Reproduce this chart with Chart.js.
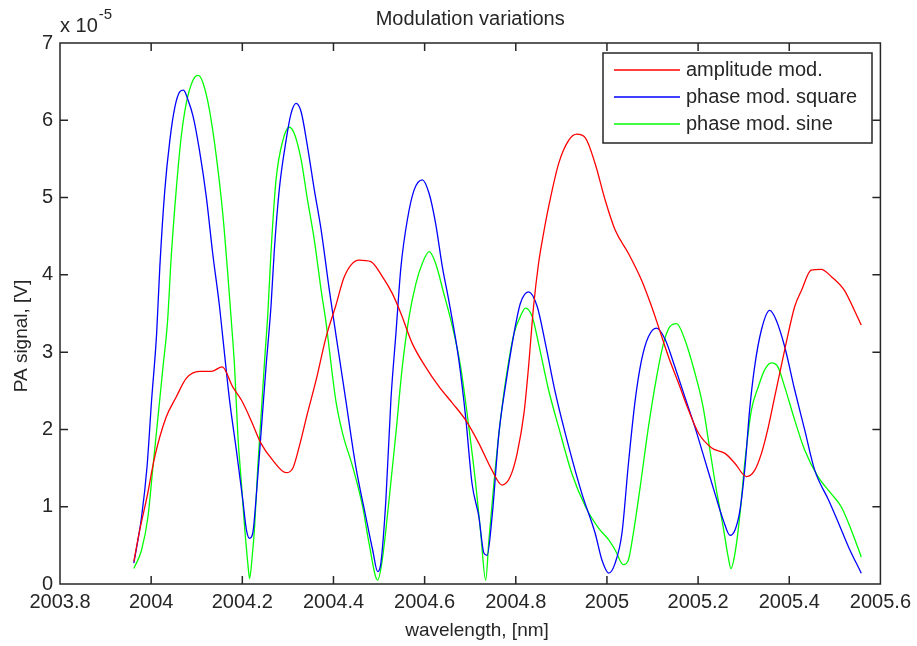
<!DOCTYPE html>
<html>
<head>
<meta charset="utf-8">
<title>Modulation variations</title>
<script src="https://cdn.jsdelivr.net/npm/chart.js@4.4.1/dist/chart.umd.min.js"></script>
<style>
  html, body { margin: 0; padding: 0; background: #fff; }
  canvas { display: block; }
</style>
</head>
<body>
<canvas id="chartMod" width="917" height="646"></canvas>
<script>
// wavelength in nm, PA signal in units of 1e-5 V
const ampWl = [2003.962, 2003.975, 2003.991, 2004.008, 2004.033, 2004.055, 2004.077, 2004.106, 2004.132, 2004.156,
    2004.179, 2004.198, 2004.219, 2004.241, 2004.267, 2004.296, 2004.311, 2004.325, 2004.343, 2004.362,
    2004.384, 2004.405, 2004.424, 2004.456, 2004.482, 2004.507, 2004.529, 2004.548, 2004.573, 2004.602,
    2004.632, 2004.661, 2004.690, 2004.719, 2004.748, 2004.770, 2004.788, 2004.803, 2004.818, 2004.828,
    2004.839, 2004.850, 2004.861, 2004.872, 2004.894, 2004.916, 2004.934, 2004.953, 2004.974, 2004.996,
    2005.018, 2005.047, 2005.076, 2005.098, 2005.113, 2005.135, 2005.157, 2005.179, 2005.201, 2005.230,
    2005.259, 2005.281, 2005.306, 2005.324, 2005.339, 2005.354, 2005.368, 2005.390, 2005.412, 2005.427,
    2005.448, 2005.470, 2005.492, 2005.521, 2005.543, 2005.558];
const ampVal = [0.29, 0.70, 1.13, 1.65, 2.16, 2.42, 2.66, 2.75, 2.75, 2.81,
    2.55, 2.38, 2.12, 1.82, 1.60, 1.44, 1.50, 1.78, 2.21, 2.64,
    3.20, 3.60, 3.98, 4.19, 4.17, 3.98, 3.76, 3.50, 3.11, 2.81,
    2.55, 2.34, 2.12, 1.82, 1.47, 1.28, 1.39, 1.69, 2.21, 2.81,
    3.59, 4.15, 4.54, 4.88, 5.44, 5.74, 5.82, 5.77, 5.44, 4.97,
    4.58, 4.28, 3.93, 3.59, 3.33, 2.94, 2.60, 2.25, 1.95, 1.76,
    1.69, 1.56, 1.39, 1.47, 1.69, 2.03, 2.42, 3.03, 3.59, 3.80,
    4.06, 4.07, 3.98, 3.80, 3.54, 3.35];

const sqWl = [2003.962, 2003.979, 2003.991, 2004.001, 2004.012, 2004.019, 2004.030, 2004.041, 2004.052, 2004.063,
    2004.071, 2004.081, 2004.092, 2004.106, 2004.121, 2004.135, 2004.150, 2004.157, 2004.172, 2004.187,
    2004.201, 2004.209, 2004.216, 2004.223, 2004.230, 2004.241, 2004.252, 2004.263, 2004.270, 2004.281,
    2004.296, 2004.307, 2004.318, 2004.329, 2004.343, 2004.358, 2004.373, 2004.391, 2004.405, 2004.427,
    2004.449, 2004.471, 2004.486, 2004.497, 2004.504, 2004.515, 2004.526, 2004.537, 2004.548, 2004.562,
    2004.577, 2004.595, 2004.610, 2004.624, 2004.639, 2004.653, 2004.675, 2004.690, 2004.704, 2004.719,
    2004.730, 2004.737, 2004.748, 2004.763, 2004.777, 2004.796, 2004.810, 2004.828, 2004.847, 2004.865,
    2004.887, 2004.916, 2004.945, 2004.974, 2004.989, 2005.004, 2005.018, 2005.033, 2005.047, 2005.062,
    2005.076, 2005.091, 2005.109, 2005.128, 2005.149, 2005.171, 2005.193, 2005.215, 2005.237, 2005.255,
    2005.270, 2005.281, 2005.292, 2005.303, 2005.313, 2005.324, 2005.339, 2005.357, 2005.371, 2005.390,
    2005.412, 2005.434, 2005.456, 2005.486, 2005.508, 2005.530, 2005.558];
const sqVal = [0.27, 0.87, 1.52, 2.38, 3.24, 4.10, 5.10, 5.74, 6.17, 6.37,
    6.39, 6.26, 6.05, 5.61, 5.01, 4.28, 3.59, 3.20, 2.38, 1.73,
    1.09, 0.70, 0.59, 0.66, 1.09, 1.95, 2.81, 3.60, 4.30, 5.10,
    5.74, 6.09, 6.22, 6.11, 5.66, 5.10, 4.58, 3.80, 3.24, 2.38,
    1.52, 0.87, 0.44, 0.16, 0.27, 1.09, 2.38, 3.24, 4.10, 4.71,
    5.10, 5.23, 5.05, 4.67, 4.10, 3.67, 2.90, 2.16, 1.30, 0.87,
    0.40, 0.37, 0.87, 1.95, 2.55, 3.24, 3.63, 3.78, 3.59, 3.11,
    2.47, 1.78, 1.17, 0.66, 0.31, 0.14, 0.27, 0.66, 1.55, 2.38,
    2.90, 3.20, 3.31, 3.16, 2.81, 2.42, 2.03, 1.60, 1.17, 0.83,
    0.63, 0.70, 0.96, 1.52, 2.25, 2.81, 3.29, 3.54, 3.42, 3.07,
    2.51, 1.99, 1.47, 1.09, 0.79, 0.48, 0.14];

const sineWl = [2003.962, 2003.979, 2003.993, 2004.004, 2004.015, 2004.026, 2004.036, 2004.044, 2004.055, 2004.066,
    2004.077, 2004.092, 2004.103, 2004.114, 2004.128, 2004.143, 2004.157, 2004.168, 2004.178, 2004.183,
    2004.190, 2004.198, 2004.205, 2004.212, 2004.216, 2004.221, 2004.227, 2004.234, 2004.241, 2004.249,
    2004.256, 2004.263, 2004.274, 2004.289, 2004.303, 2004.314, 2004.329, 2004.343, 2004.358, 2004.373,
    2004.384, 2004.391, 2004.405, 2004.420, 2004.442, 2004.464, 2004.478, 2004.497, 2004.507, 2004.522,
    2004.537, 2004.551, 2004.566, 2004.581, 2004.595, 2004.610, 2004.624, 2004.642, 2004.661, 2004.679,
    2004.697, 2004.712, 2004.723, 2004.734, 2004.741, 2004.752, 2004.763, 2004.777, 2004.796, 2004.810,
    2004.821, 2004.836, 2004.850, 2004.872, 2004.894, 2004.923, 2004.953, 2004.982, 2005.004, 2005.018,
    2005.036, 2005.047, 2005.058, 2005.073, 2005.091, 2005.109, 2005.124, 2005.138, 2005.153, 2005.171,
    2005.193, 2005.211, 2005.226, 2005.240, 2005.255, 2005.266, 2005.272, 2005.281, 2005.292, 2005.303,
    2005.317, 2005.332, 2005.346, 2005.361, 2005.375, 2005.390, 2005.412, 2005.434, 2005.463, 2005.492,
    2005.514, 2005.536, 2005.558];
const sineVal = [0.20, 0.44, 0.87, 1.52, 2.16, 2.81, 3.40, 4.23, 5.10, 5.79,
    6.22, 6.52, 6.58, 6.48, 6.13, 5.53, 4.80, 4.02, 3.24, 2.81,
    1.95, 1.30, 0.74, 0.27, 0.07, 0.31, 0.74, 1.52, 2.16, 2.90,
    3.50, 4.30, 5.23, 5.74, 5.91, 5.83, 5.49, 4.97, 4.45, 3.80,
    3.37, 3.03, 2.38, 1.95, 1.52, 1.00, 0.53, 0.05, 0.31, 1.09,
    1.95, 2.81, 3.46, 3.89, 4.15, 4.30, 4.15, 3.76, 3.33, 2.81,
    2.03, 1.30, 0.66, 0.05, 0.57, 1.30, 1.95, 2.60, 3.24, 3.46,
    3.57, 3.46, 3.11, 2.51, 2.03, 1.43, 1.00, 0.72, 0.57, 0.44,
    0.25, 0.31, 0.66, 1.26, 2.03, 2.68, 3.11, 3.33, 3.37, 3.16,
    2.73, 2.29, 1.73, 1.22, 0.74, 0.35, 0.20, 0.40, 0.91, 1.60,
    2.25, 2.55, 2.77, 2.86, 2.81, 2.55, 2.12, 1.73, 1.39, 1.17,
    1.00, 0.70, 0.35];

const seriesNames = ['amplitude mod.', 'phase mod. square', 'phase mod. sine'];
const seriesColors = ['#ff0000', '#0000ff', '#00ff00'];
const xTicks = [2003.8, 2004, 2004.2, 2004.4, 2004.6, 2004.8, 2005, 2005.2, 2005.4, 2005.6];
const yTicks = [0, 1, 2, 3, 4, 5, 6, 7];
const yExponent = -5;

const FONT = "'Liberation Sans', Arial, Helvetica, sans-serif";
const INK = '#262626';

function pontos(wl, val) {
    return wl.map((x, i) => ({ x: x, y: val[i] }));
}

// caixa fechada, ticks para dentro, legenda, titulos e expoente do eixo y
const estiloMatlab = {
    id: 'estiloMatlab',
    afterDraw(chart) {
        const { ctx, chartArea: a, scales } = chart;
        ctx.save();
        ctx.strokeStyle = INK;
        ctx.lineWidth = 1.5;
        ctx.strokeRect(a.left, a.top, a.right - a.left, a.bottom - a.top);

        const tam = 8;
        ctx.beginPath();
        xTicks.forEach(v => {
            const px = scales.x.getPixelForValue(v);
            if (px <= a.left + 1 || px >= a.right - 1) return;
            ctx.moveTo(px, a.bottom); ctx.lineTo(px, a.bottom - tam);
            ctx.moveTo(px, a.top); ctx.lineTo(px, a.top + tam);
        });
        yTicks.forEach(v => {
            const py = scales.y.getPixelForValue(v);
            if (py <= a.top + 1 || py >= a.bottom - 1) return;
            ctx.moveTo(a.left, py); ctx.lineTo(a.left + tam, py);
            ctx.moveTo(a.right, py); ctx.lineTo(a.right - tam, py);
        });
        ctx.stroke();

        // titulo
        ctx.fillStyle = INK;
        ctx.font = '20px ' + FONT;
        ctx.textAlign = 'center';
        ctx.textBaseline = 'middle';
        ctx.fillText('Modulation variations', (a.left + a.right) / 2, 19);

        // rotulos dos eixos
        ctx.font = '19px ' + FONT;
        ctx.fillText('wavelength, [nm]', 477, 631);
        ctx.save();
        ctx.translate(22, 336);
        ctx.rotate(-Math.PI / 2);
        ctx.fillText('PA signal, [V]', 0, 0);
        ctx.restore();

        // multiplicador do eixo y
        ctx.font = '20px ' + FONT;
        ctx.textAlign = 'left';
        ctx.textBaseline = 'alphabetic';
        ctx.fillText('x 10', a.left, 32);
        const w = ctx.measureText('x 10').width;
        ctx.font = '15px ' + FONT;
        ctx.fillText(String(yExponent), a.left + w + 1, 19);

        // legenda
        const lx = 603, ly = 53, lw = 269, lh = 90;
        ctx.fillStyle = '#fff';
        ctx.fillRect(lx, ly, lw, lh);
        ctx.strokeRect(lx, ly, lw, lh);
        ctx.font = '20px ' + FONT;
        ctx.textBaseline = 'middle';
        chart.data.datasets.forEach((ds, i) => {
            const ry = ly + 17 + i * 27;
            ctx.strokeStyle = ds.borderColor;
            ctx.lineWidth = 1.3;
            ctx.beginPath();
            ctx.moveTo(lx + 11, ry);
            ctx.lineTo(lx + 77, ry);
            ctx.stroke();
            ctx.fillStyle = INK;
            ctx.fillText(ds.label, lx + 83, ry);
        });
        ctx.restore();
    }
};

const dados = {
    datasets: [
        { label: seriesNames[0], data: pontos(ampWl, ampVal), borderColor: seriesColors[0] },
        { label: seriesNames[1], data: pontos(sqWl, sqVal), borderColor: seriesColors[1] },
        { label: seriesNames[2], data: pontos(sineWl, sineVal), borderColor: seriesColors[2] }
    ].map(ds => Object.assign(ds, {
        borderWidth: 1.3,
        pointRadius: 0,
        fill: false,
        cubicInterpolationMode: 'monotone'
    }))
};

const config = {
    type: 'line',
    data: dados,
    options: {
        responsive: false,
        animation: false,
        layout: { padding: { top: 43, right: 35, left: 0, bottom: 0 } },
        plugins: {
            legend: { display: false },
            tooltip: { enabled: false }
        },
        scales: {
            x: {
                type: 'linear',
                min: xTicks[0],
                max: xTicks[xTicks.length - 1],
                afterBuildTicks: s => { s.ticks = xTicks.map(v => ({ value: v })); },
                afterFit: s => { s.height = 62; },
                grid: { display: false, drawTicks: false },
                border: { display: false },
                ticks: {
                    color: INK,
                    font: { family: FONT, size: 20 },
                    padding: 6,
                    maxRotation: 0,
                    autoSkip: false,
                    callback: v => String(Math.round(v * 10) / 10)
                }
            },
            y: {
                min: yTicks[0],
                max: yTicks[yTicks.length - 1],
                afterBuildTicks: s => { s.ticks = yTicks.map(v => ({ value: v })); },
                afterFit: s => { s.width = 60; },
                grid: { display: false, drawTicks: false },
                border: { display: false },
                ticks: {
                    color: INK,
                    font: { family: FONT, size: 20 },
                    padding: 7,
                    callback: v => String(v)
                }
            }
        }
    },
    plugins: [estiloMatlab]
};

new Chart(document.getElementById('chartMod'), config);
</script>
</body>
</html>
